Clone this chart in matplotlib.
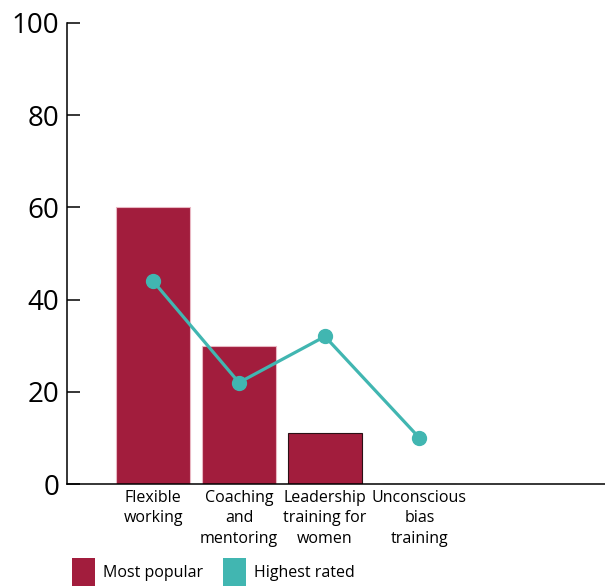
import matplotlib.pyplot as plt
from matplotlib.patches import Patch
import numpy as np

plt.rcParams['font.family'] = ['Open Sans', 'DejaVu Sans']

categories = ["Flexible\nworking", "Coaching\nand\nmentoring",
              "Leadership\ntraining for\nwomen", "Unconscious\nbias\ntraining"]
most_popular = [60, 30, 11, 0]
highest_rated = [44, 22, 32, 10]

bar_color = '#A21D3D'
line_color = '#41B6B1'

# slot for each category along x (last one sits a little further out)
slots = np.array([0, 1, 2, 3.1])

fig = plt.figure(figsize=(6.05, 5.86), dpi=100)
ax = fig.add_axes([0.111, 0.174, 0.889, 0.787])

edges = ['#E9B7C3', '#E9B7C3', '#2A1015', '#2A1015']
ax.bar(slots, most_popular, width=0.86, color=bar_color, edgecolor=edges, linewidth=0.8, zorder=2)
ax.plot(slots, highest_rated, color=line_color, lw=2.3, marker='o', ms=10, zorder=3)

ax.set_xlim(-1.0, 5.26)
ax.set_ylim(0, 100)
ax.set_yticks([0, 20, 40, 60, 80, 100])
ax.set_xticks(slots)
ax.set_xticklabels(categories, fontsize=11.5, linespacing=1.38)

for side in ['top', 'right']:
    ax.spines[side].set_visible(False)
for side in ['left', 'bottom']:
    ax.spines[side].set_linewidth(1.1)

ax.tick_params(axis='y', direction='in', length=9.5, width=1.1, pad=5.5, labelsize=20)
ax.tick_params(axis='x', length=0, pad=4)

handles = [Patch(facecolor=bar_color, edgecolor='none'),
           Patch(facecolor=line_color, edgecolor='none')]
fig.legend(handles, ['Most popular', 'Highest rated'], loc='lower left',
           bbox_to_anchor=(0.095, -0.024), ncol=2, frameon=False, fontsize=11.5,
           handlelength=1.45, handleheight=2.3, handletextpad=0.5, columnspacing=1.25)

fig.savefig('out.png', dpi=100)
